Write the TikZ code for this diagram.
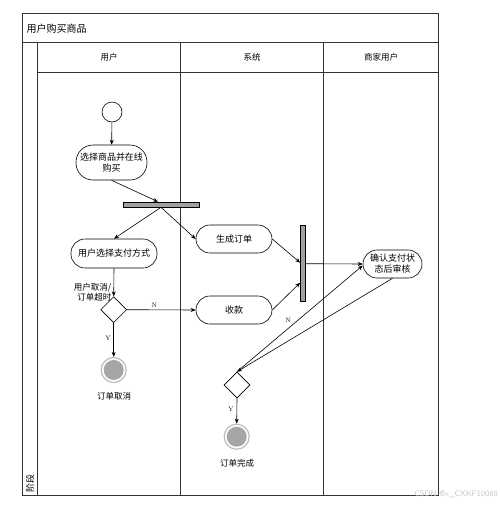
\documentclass[tikz,border=0pt]{standalone}
\usepackage{fontspec}
\newfontfamily\cjk{Noto Sans CJK SC}
\usetikzlibrary{arrows.meta,shapes.geometric,calc}
\definecolor{framec}{HTML}{333333}
\definecolor{barfill}{HTML}{A0A0A0}
\definecolor{endfill}{HTML}{A6A6A6}
\definecolor{endring}{HTML}{BDBDBD}
\begin{document}
\begin{tikzpicture}[x=1pt,y=-1pt,
  frame/.style={draw=framec,line width=0.9pt},
  lbl/.style={font=\cjk\fontsize{8.5}{10}\selectfont,inner sep=1pt},
  act/.style={draw=black,line width=0.6pt,fill=white,rectangle,inner sep=1pt,align=center,
    font=\cjk\fontsize{9}{11}\selectfont},
  bar/.style={draw=black,line width=0.6pt,fill=barfill,rectangle,inner sep=0pt},
  dec/.style={draw=black,line width=0.6pt,fill=white,diamond,inner sep=0pt,minimum width=26pt,minimum height=26pt},
  startst/.style={draw=black,line width=0.6pt,fill=white,circle,inner sep=0pt,minimum size=20pt},
  endst/.style={circle,inner sep=0pt,minimum size=25pt,draw=endring,line width=1.2pt,fill=white,
    path picture={\fill[endfill] (path picture bounding box.center) circle (10pt);}},
  flow/.style={draw=black,line width=0.6pt,-{Stealth[length=5pt,width=4pt]}},
  guard/.style={font=\fontsize{6.5}{7}\selectfont,inner sep=0pt,text=black!85!blue}
]
\useasboundingbox (0,0) rectangle (500,507);
% swimlane frame
\draw[frame] (22.7,13.7) rectangle (438,495);
\draw[frame] (22.7,42.7) -- (438,42.7);
\draw[frame] (37.7,42.7) -- (37.7,495);
\draw[frame] (37.7,72) -- (438,72);
\draw[frame] (180.7,42.7) -- (180.7,495);
\draw[frame] (323.7,42.7) -- (323.7,495);
\node[lbl,anchor=west,font=\cjk\fontsize{10}{12}\selectfont] (title) at (25.5,28.5) {用户购买商品};
\node[lbl] (h1) at (109,57.5) {用户};
\node[lbl] (h2) at (252,57.5) {系统};
\node[lbl] (h3) at (381,57.5) {商家用户};
\node[lbl,rotate=90,anchor=west,font=\cjk\fontsize{9}{10}\selectfont] (stage) at (30.3,493.5) {阶段};

% nodes
\node[startst] (start) at (112,112) {};
\node[act,minimum width=71pt,minimum height=35pt,rounded corners=17pt] (sel) at (111.5,162.5) {选择商品并在线\\购买};
\node[bar,minimum width=76pt,minimum height=5pt] (fork) at (161,204.5) {};
\node[act,minimum width=86pt,minimum height=29pt,rounded corners=14pt] (pay) at (114,253.5) {用户选择支付方式};
\node[act,minimum width=76pt,minimum height=28pt,rounded corners=14pt] (gen) at (234,239) {生成订单};
\node[act,minimum width=76pt,minimum height=28pt,rounded corners=14pt] (rec) at (234,310) {收款};
\node[bar,minimum width=5pt,minimum height=76pt] (join) at (303,263.7) {};
\node[act,minimum width=59pt,minimum height=28pt,rounded corners=14pt] (conf) at (392.5,264) {确认支付状\\态后审核};
\node[dec] (d1) at (113.7,309.7) {};
\node[dec] (d2) at (237,385) {};
\node[endst] (e1) at (113.7,370) {};
\node[endst] (e2) at (236.7,436.7) {};

% labels
\node[lbl,align=right,anchor=east] (cond) at (112.5,292.5) {用户取消/\\订单超时};
\node[lbl] (e1t) at (114,396) {订单取消};
\node[lbl] (e2t) at (237,463.5) {订单完成};
\node[font=\sffamily\fontsize{8}{9}\selectfont,text=black!22,inner sep=0pt,anchor=east] (wm) at (498,494.5) {CSDN @x\_CXKF10088};

% connectors
\draw[flow] (start) -- (sel);
\draw[flow] (sel.south) -- ([xshift=-3pt]fork.north);
\draw[flow] (fork.south) -- (pay.north);
\draw[flow] (fork.south) -- (gen.west);
\draw[flow] (gen.east) -- ([yshift=1pt]join.west);
\draw[flow] (rec.east) -- ([yshift=-19pt]join.west);
\draw[flow] (join.east) -- (conf.west);
\draw[flow] (pay.south) -- (d1.north);
\draw[flow] (d1.east) -- node[guard,pos=0.4,above=2.5pt] (nl1) {N} (rec.west);
\draw[flow] (d1.south) -- node[guard,pos=0.45,left=2.5pt] (yl1) {Y} (e1.north);
\draw[flow] (d2.north) -- ([yshift=-1.5pt]conf.west);
\draw[flow] (conf.south) -- (d2.north);
\draw[flow] (d2.south) -- node[guard,pos=0.45,left=3pt] (yl2) {Y} (e2.north);
\node[guard] (nl2) at (288,320) {N};
\end{tikzpicture}
\end{document}
